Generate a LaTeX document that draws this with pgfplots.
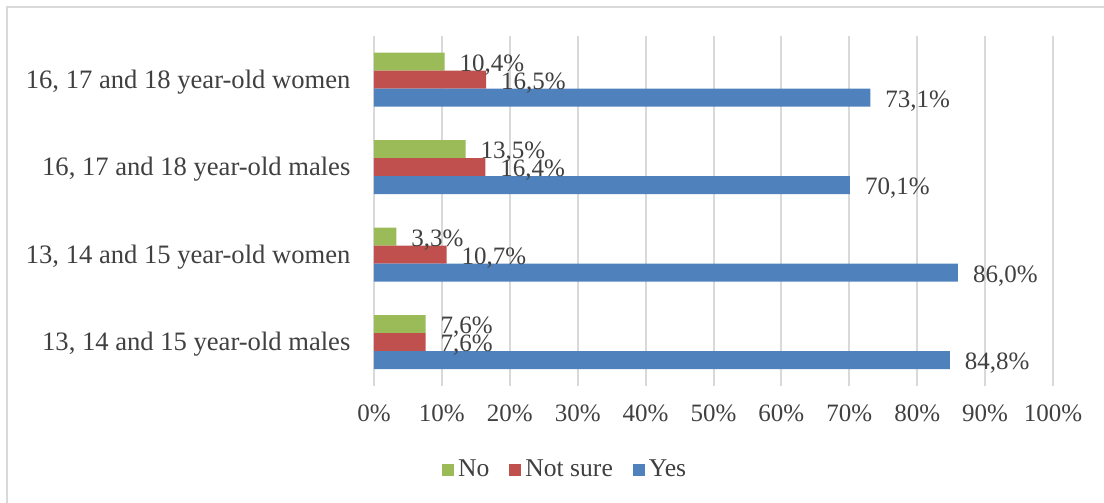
\documentclass[border=0pt]{standalone}
\usepackage{fontspec}
\setmainfont{Liberation Serif}
\usepackage{pgfplots}
\pgfplotsset{compat=1.18}
\definecolor{cNo}{HTML}{9BBB59}
\definecolor{cNS}{HTML}{C0504D}
\definecolor{cYes}{HTML}{4F81BD}
\definecolor{cTxt}{HTML}{404040}
\definecolor{cGrid}{HTML}{D9D9D9}
\begin{document}
\begin{tikzpicture}
\path[use as bounding box] (0,0) rectangle (552pt,251.5pt);
\begin{scope}
\clip (0,0) rectangle (552pt,251.5pt);
\draw[cGrid, line width=1pt] (3.5pt,-20pt) -- (3.5pt,248pt) -- (600pt,248pt);
\end{scope}
\begin{axis}[
  at={(187pt,58.5pt)}, anchor=south west,
  scale only axis, width=339.5pt, height=175pt,
  xbar, bar width=9pt,
  xmin=0, xmax=100, ymin=-0.5, ymax=3.5,
  xtick={0,10,...,100},
  xticklabels={0\%,10\%,20\%,30\%,40\%,50\%,60\%,70\%,80\%,90\%,100\%},
  ytick={0,1,2,3},
  yticklabels={{13, 14 and 15 year-old males},{13, 14 and 15 year-old women},{16, 17 and 18 year-old males},{16, 17 and 18 year-old women}},
  axis line style={draw=none},
  major tick style={draw=none},
  xmajorgrids, grid style={cGrid, line width=1pt},
  tick label style={font=\fontsize{12.5}{14}\selectfont, text=cTxt},
  xticklabel style={yshift=-6pt},
  yticklabel style={font=\fontsize{13.3}{15}\selectfont, xshift=-4pt, yshift=-1pt},
  /pgf/number format/assume math mode=true,
  nodes near coords={\pgfmathprintnumber[fixed,fixed zerofill,precision=1,use comma]{\pgfplotspointmeta}\%},
  nodes near coords style={font=\fontsize{12.5}{14}\selectfont, text=cTxt, anchor=west, xshift=4pt, yshift=-1.5pt},
  legend style={at={(0.283,-0.24)}, anchor=center, draw=none, legend columns=-1,
    font=\fontsize{12.8}{14}\selectfont, text=cTxt,
    /tikz/every even column/.append style={column sep=8pt}},
  legend image code/.code={\fill[#1] (0pt,-3pt) rectangle (6pt,3pt);},
]
\addplot[fill=cNo, draw=none, bar shift=9pt] coordinates {(7.6,0) (3.3,1) (13.5,2) (10.4,3)};
\addplot[fill=cNS, draw=none, bar shift=0pt] coordinates {(7.6,0) (10.7,1) (16.4,2) (16.5,3)};
\addplot[fill=cYes, draw=none, bar shift=-9pt] coordinates {(84.8,0) (86.0,1) (70.1,2) (73.1,3)};
\legend{No,Not sure,Yes}
\end{axis}
\end{tikzpicture}
\end{document}
